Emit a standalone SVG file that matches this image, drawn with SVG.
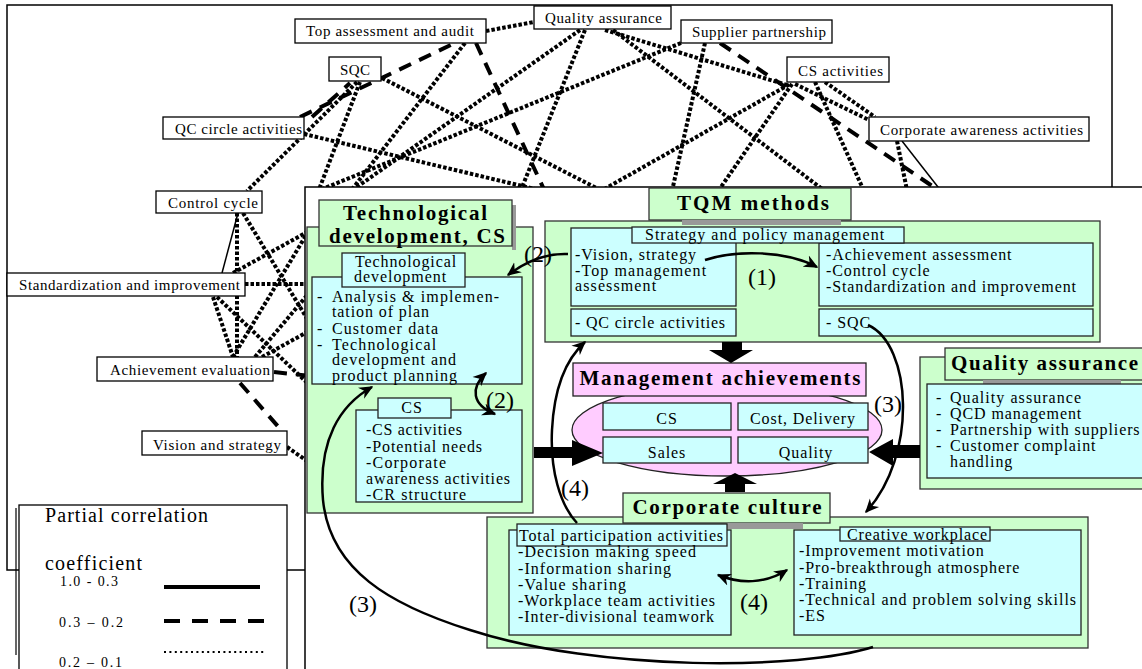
<svg xmlns="http://www.w3.org/2000/svg" width="1142" height="669" viewBox="0 0 1142 669">
<defs>
<style>
text{font-family:"Liberation Serif","Times New Roman",serif;fill:#000}
.frame{fill:#fff;stroke:#000;stroke-width:1.5}
.nbox{fill:#fff;stroke:#000;stroke-width:1.3}
.nt{font-size:15px}
.dot{fill:none;stroke:#000;stroke-width:4;stroke-dasharray:3.5 2}
.dash{fill:none;stroke:#000;stroke-width:4;stroke-dasharray:13 9}
.sol{fill:none;stroke:#000;stroke-width:1.5}
.green{fill:#ccffcc;stroke:#333;stroke-width:1.3}
.cyan{fill:#ccffff;stroke:#222;stroke-width:1.3}
.pink{fill:#ffccff;stroke:#222;stroke-width:1.3}
.bar{fill:#999}
.title{font-weight:bold;font-size:21px}
.body{font-size:16px;letter-spacing:0.9px}
.lab{font-size:24px}
.curve{fill:none;stroke:#000;stroke-width:2.5}
.block{fill:#000}
</style>
<marker id="ah" viewBox="0 0 10 10" refX="9" refY="5" markerWidth="14" markerHeight="14" markerUnits="userSpaceOnUse" orient="auto-start-reverse"><path d="M0,0.5 L10,5 L0,9.5 L3,5 z" fill="#000"/></marker>
</defs>

<rect x="0" y="0" width="1142" height="669" fill="#fff"/>

<!-- correlation network frame -->
<rect class="frame" x="7" y="5" width="1105" height="565"/>

<!-- partial-correlation links between network items -->
<g id="network-links">
<path class="dot" d="M486,31 L534,22"/>
<path class="dot" d="M465,43 L340,205"/>
<path class="dot" d="M580,30 L330,206"/>
<path class="dot" d="M585,30 L517,200"/>
<path class="dot" d="M605,30 L787,85"/>
<path class="dot" d="M613,30 L830,195"/>
<path class="dot" d="M681,43 L320,190"/>
<path class="dot" d="M705,43 L670,200"/>
<path class="dot" d="M382,78 L610,195"/>
<path class="dot" d="M585,200 L790,84"/>
<path class="dot" d="M712,200 L792,84"/>
<path class="dot" d="M815,82 L868,200"/>
<path class="dot" d="M825,82 L875,117"/>
<path class="dot" d="M795,84 L869,120"/>
<path class="dot" d="M897,141 L909,200"/>
<path class="dot" d="M357,82 L247,191"/>
<path class="dot" d="M360,82 L315,200"/>
<path class="dot" d="M304,134 L560,195"/>
<path class="dot" d="M237,213 L237,357"/>
<path class="dot" d="M243,213 L320,340"/>
<path class="dot" d="M245,284 L320,284"/>
<path class="dot" d="M217,297 L320,395"/>
<path class="dot" d="M213,297 L233,357"/>
<path class="dot" d="M233,357 L320,212"/>
<path class="dot" d="M255,357 L320,280"/>
<path class="dot" d="M262,357 L320,325"/>
<path class="dot" d="M233,273 L320,225"/>
<path class="dot" d="M287,447 L320,470"/>
<path class="dash" d="M300,117 L455,43"/>
<path class="dash" d="M312,117 L350,83"/>
<path class="dash" d="M476,43 L547,196"/>
<path class="dash" d="M720,43 L950,198"/>
<path class="dash" d="M274,372 L320,377"/>
<path class="dash" d="M240,383 L282,431"/>
<path class="sol" d="M238,213 L222,273"/>
<path class="sol" d="M902,141 L945,196"/>
</g>

<g id="n-top-assessment"><rect class="nbox" x="295" y="19" width="191" height="24"/><text class="nt" x="306" y="36" textLength="168">Top assessment and audit</text></g>
<g id="n-quality-assurance"><rect class="nbox" x="534" y="6" width="137" height="23"/><text class="nt" x="545" y="23" textLength="117">Quality assurance</text></g>
<g id="n-supplier-partnership"><rect class="nbox" x="681" y="20" width="151" height="23"/><text class="nt" x="692" y="37" textLength="134">Supplier partnership</text></g>
<g id="n-sqc"><rect class="nbox" x="329" y="57" width="52" height="24"/><text class="nt" x="340" y="75" textLength="30">SQC</text></g>
<g id="n-cs-activities"><rect class="nbox" x="787" y="57" width="102" height="25"/><text class="nt" x="798" y="76" textLength="85">CS activities</text></g>
<g id="n-qc-circle"><rect class="nbox" x="163" y="117" width="141" height="22"/><text class="nt" x="175" y="134" textLength="127">QC circle activities</text></g>
<g id="n-corporate-awareness"><rect class="nbox" x="869" y="117" width="220" height="24"/><text class="nt" x="880" y="135" textLength="203">Corporate awareness activities</text></g>
<g id="n-control-cycle"><rect class="nbox" x="156" y="191" width="106" height="22"/><text class="nt" x="168" y="208" textLength="90">Control cycle</text></g>
<g id="n-standardization"><rect class="nbox" x="7" y="273" width="238" height="23"/><text class="nt" x="19" y="290" textLength="221">Standardization and improvement</text></g>
<g id="n-achievement"><rect class="nbox" x="97" y="357" width="176" height="24"/><text class="nt" x="110" y="375" textLength="160">Achievement evaluation</text></g>
<g id="n-vision"><rect class="nbox" x="142" y="431" width="145" height="24"/><text class="nt" x="153" y="450" textLength="128">Vision and strategy</text></g>

<!-- model sheet laid over the network -->
<rect x="305" y="187" width="845" height="490" fill="#fff" stroke="#000" stroke-width="1.5"/>

<g id="tech-dev">
<rect class="green" x="307" y="227" width="226" height="286"/>
<rect class="bar" x="512" y="205" width="4" height="45"/>
<rect class="green" x="319" y="200" width="193" height="46"/>
<text class="title" x="415" y="220" text-anchor="middle" textLength="144" font-size="19">Technological</text>
<text class="title" x="417" y="243" text-anchor="middle" textLength="176" font-size="19">development, CS</text>
<rect class="cyan" x="312" y="277" width="210" height="107"/>
<rect class="cyan" x="342" y="253" width="123" height="34"/>
<text class="body" x="355" y="267" textLength="102">Technological</text>
<text class="body" x="354" y="282" textLength="93">development</text>
<text class="body" x="317" y="302">-</text>
<text class="body" x="332" y="302" textLength="168">Analysis &amp; implemen-</text>
<text class="body" x="332" y="317" textLength="98">tation of plan</text>
<text class="body" x="317" y="334">-</text>
<text class="body" x="332" y="334" textLength="107">Customer data</text>
<text class="body" x="317" y="350">-</text>
<text class="body" x="332" y="350" textLength="105">Technological</text>
<text class="body" x="332" y="365" textLength="125">development and</text>
<text class="body" x="332" y="381" textLength="126">product planning</text>
<rect class="cyan" x="356" y="410" width="166" height="92"/>
<rect class="cyan" x="378" y="398" width="73" height="20"/>
<text class="body" x="412" y="413" text-anchor="middle">CS</text>
<text class="body" x="366" y="435" textLength="97">-CS activities</text>
<text class="body" x="366" y="452" textLength="117">-Potential needs</text>
<text class="body" x="366" y="468" textLength="81">-Corporate</text>
<text class="body" x="366" y="484" textLength="145">awareness activities</text>
<text class="body" x="366" y="500" textLength="101">-CR structure</text>
</g>

<g id="tqm-methods">
<rect class="green" x="545" y="221" width="555" height="121"/>
<rect class="green" x="649" y="188" width="202" height="32"/>
<text class="title" x="753" y="210" text-anchor="middle" textLength="152" font-size="22">TQM  methods</text>
<rect class="bar" x="682" y="220" width="159" height="5"/>
<rect class="cyan" x="571" y="228" width="165" height="78"/>
<rect class="cyan" x="819" y="243" width="274" height="63"/>
<rect class="cyan" x="632" y="227" width="272" height="16"/>
<text class="body" x="765" y="240" text-anchor="middle" textLength="240">Strategy and policy management</text>
<text class="body" x="575" y="260" textLength="122">-Vision, strategy</text>
<text class="body" x="575" y="276" textLength="132">-Top management</text>
<text class="body" x="575" y="291" textLength="82">assessment</text>
<text class="body" x="826" y="260">-Achievement assessment</text>
<text class="body" x="826" y="276">-Control cycle</text>
<text class="body" x="826" y="292">-Standardization and improvement</text>
<rect class="cyan" x="571" y="309" width="165" height="27"/>
<text class="body" x="575" y="328" textLength="151">- QC circle activities</text>
<rect class="cyan" x="819" y="309" width="274" height="27"/>
<text class="body" x="826" y="328">- SQC</text>
</g>

<g id="management-achievements">
<ellipse class="pink" cx="727" cy="430" rx="155" ry="46"/>
<rect class="pink" x="573" y="363" width="293" height="33"/>
<text class="title" x="720" y="385" text-anchor="middle" textLength="281" font-size="20">Management achievements</text>
<rect class="cyan" x="603" y="403" width="128" height="27"/>
<rect class="cyan" x="738" y="403" width="130" height="27"/>
<rect class="cyan" x="603" y="437" width="128" height="26"/>
<rect class="cyan" x="738" y="437" width="130" height="26"/>
<text class="body" x="667" y="424" text-anchor="middle">CS</text>
<text class="body" x="803" y="424" text-anchor="middle">Cost, Delivery</text>
<text class="body" x="667" y="458" text-anchor="middle">Sales</text>
<text class="body" x="806" y="458" text-anchor="middle">Quality</text>
</g>

<g id="quality-assurance">
<rect class="green" x="920" y="357" width="230" height="132"/>
<rect class="green" x="945" y="348" width="205" height="32"/>
<text class="title" x="951" y="370" textLength="187">Quality assurance</text>
<rect class="bar" x="983" y="380" width="138" height="4"/>
<rect class="cyan" x="927" y="384" width="223" height="94"/>
<text class="body" x="936" y="403">-</text><text class="body" x="950" y="403" textLength="132">Quality assurance</text>
<text class="body" x="936" y="419">-</text><text class="body" x="950" y="419">QCD management</text>
<text class="body" x="936" y="435">-</text><text class="body" x="950" y="435">Partnership with suppliers</text>
<text class="body" x="936" y="451">-</text><text class="body" x="950" y="451">Customer complaint</text>
<text class="body" x="950" y="467">handling</text>
</g>

<g id="corporate-culture">
<rect class="green" x="487" y="517" width="601" height="131"/>
<rect class="green" x="623" y="493" width="207" height="30"/>
<text class="title" x="727" y="514" text-anchor="middle" textLength="189">Corporate culture</text>
<rect class="bar" x="727" y="523" width="76" height="6"/>
<rect class="cyan" x="509" y="530" width="222" height="105"/>
<rect class="cyan" x="517" y="524" width="210" height="22"/>
<text class="body" x="519" y="541" textLength="205">Total participation activities</text>
<text class="body" x="518" y="557" textLength="179">-Decision making speed</text>
<text class="body" x="518" y="574" textLength="154">-Information sharing</text>
<text class="body" x="518" y="590" textLength="109">-Value sharing</text>
<text class="body" x="518" y="606" textLength="198">-Workplace team activities</text>
<text class="body" x="518" y="622" textLength="197">-Inter-divisional teamwork</text>
<rect class="cyan" x="794" y="530" width="287" height="105"/>
<rect class="cyan" x="840" y="527" width="150" height="14"/>
<text class="body" x="847" y="540" textLength="141">Creative workplace</text>
<text class="body" x="799" y="556">-Improvement motivation</text>
<text class="body" x="799" y="573">-Pro-breakthrough atmosphere</text>
<text class="body" x="799" y="589">-Training</text>
<text class="body" x="799" y="605" textLength="278">-Technical and problem solving skills</text>
<text class="body" x="799" y="621">-ES</text>
</g>

<!-- flows between the model blocks -->
<g id="connectors">
<path class="block" d="M722,342 H742 V350 H753 L731,363 L709,350 H722 Z"/>
<path class="block" d="M725,492 H745 V484 H757 L735,473 L713,484 H725 Z"/>
<path class="block" d="M534,447 H572 V440 L603,453 L572,466 V458 H534 Z"/>
<path class="block" d="M920,445 H893 V439 L869,452 L893,466 V458 H920 Z"/>
<path class="curve" d="M705,260 C735,250 785,250 817,267" marker-end="url(#ah)"/>
<path class="curve" d="M568,254 C545,253 525,262 508,275" marker-end="url(#ah)"/>
<path class="curve" d="M486,373 C470,388 472,405 495,414" marker-start="url(#ah)" marker-end="url(#ah)"/>
<path class="curve" d="M868,325 C912,345 918,455 866,512" marker-end="url(#ah)"/>
<path class="curve" d="M873,647 C800,670 600,672 470,630 C390,605 330,570 323,500 C318,440 340,405 372,387" marker-end="url(#ah)"/>
<path class="curve" d="M577,523 C560,505 550,470 552,430 C554,390 565,360 585,342" marker-end="url(#ah)"/>
<path class="curve" d="M718,575 C740,584 765,584 787,570" marker-start="url(#ah)" marker-end="url(#ah)"/>
<text class="lab" x="762" y="285" text-anchor="middle">(1)</text>
<text class="lab" x="538" y="262" text-anchor="middle">(2)</text>
<text class="lab" x="500" y="408" text-anchor="middle">(2)</text>
<text class="lab" x="888" y="412" text-anchor="middle">(3)</text>
<text class="lab" x="363" y="612" text-anchor="middle">(3)</text>
<text class="lab" x="575" y="496" text-anchor="middle">(4)</text>
<text class="lab" x="754" y="610" text-anchor="middle">(4)</text>
</g>

<g id="legend">
<line x1="16" y1="508" x2="16" y2="655" stroke="#000" stroke-width="1.2"/>
<rect x="19" y="505" width="268" height="175" fill="#fff" stroke="#000" stroke-width="1.3"/>
<text x="45" y="522" font-size="20" textLength="163">Partial correlation</text>
<text x="45" y="570" font-size="20" textLength="97">coefficient</text>
<text x="60" y="586" font-size="14" textLength="58">1.0 - 0.3</text>
<text x="59" y="627" font-size="14" textLength="64">0.3 – 0.2</text>
<text x="59" y="667" font-size="14" textLength="63">0.2 – 0.1</text>
<line x1="164" y1="587" x2="260" y2="587" stroke="#000" stroke-width="4"/>
<line x1="164" y1="621" x2="264" y2="621" stroke="#000" stroke-width="4" stroke-dasharray="16 12"/>
<line x1="164" y1="652" x2="264" y2="652" stroke="#000" stroke-width="2.2" stroke-dasharray="2 3.4"/>
</g>
</svg>
